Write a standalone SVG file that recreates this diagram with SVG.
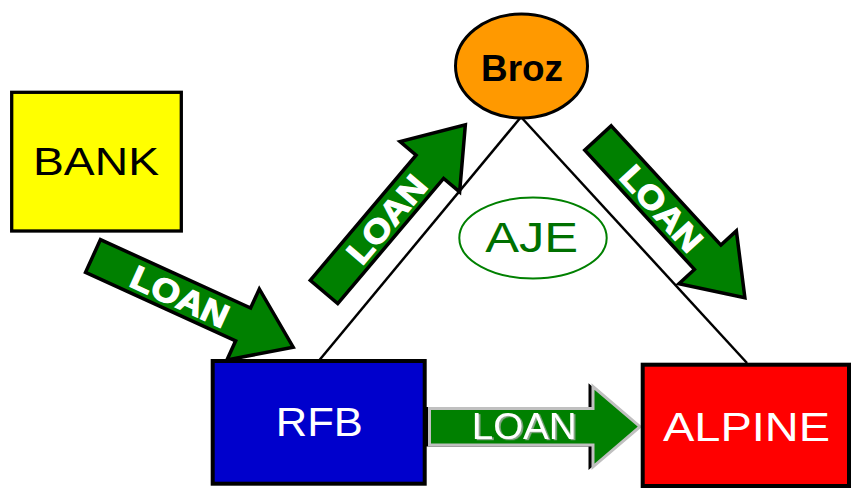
<svg xmlns="http://www.w3.org/2000/svg" width="852" height="488" viewBox="0 0 852 488">
  <style>
    .lbl { font-family: "Liberation Sans", Arial, sans-serif; text-anchor: middle; }
    .loanb { font-family: "Liberation Sans", Arial, sans-serif; font-weight: bold; font-size: 33px; fill: #ffffff; stroke: #ffffff; stroke-width: 1.2; text-anchor: middle; }
    .garrow { fill: #008000; stroke: #000000; stroke-width: 3.5; stroke-linejoin: miter; }
    .line { stroke: #000000; stroke-width: 2.5; fill: none; }
  </style>
  <defs>
    <filter id="shadow" x="-10%" y="-20%" width="120%" height="140%">
      <feDropShadow dx="1.8" dy="1.2" stdDeviation="0" flood-color="#8fa88f" flood-opacity="1"/>
    </filter>
  </defs>
  <rect width="852" height="488" fill="#ffffff"/>

  <g id="connectors">
    <line class="line" x1="521" y1="117" x2="319.5" y2="360"/>
    <line class="line" x1="521" y1="117" x2="747" y2="363"/>

    <g id="loan-bank-rfb" transform="translate(93,256) rotate(24.5)">
      <path class="garrow" d="M0,-18 L165,-18 L165,-39 L220,0 L165,39 L165,18 L0,18 Z"/>
      <text class="loanb" x="96" y="12.5" textLength="104" lengthAdjust="spacingAndGlyphs">LOAN</text>
    </g>

    <g id="loan-rfb-broz" transform="translate(324,292) rotate(-49.8)">
      <path class="garrow" d="M0,-18 L164,-18 L164,-39 L219,0 L164,39 L164,18 L0,18 Z"/>
      <text class="loanb" x="96" y="12.5" textLength="104" lengthAdjust="spacingAndGlyphs">LOAN</text>
    </g>

    <g id="loan-broz-alpine" transform="translate(598,138) rotate(47.4)">
      <path class="garrow" d="M0,-18 L162,-18 L162,-39 L217,0 L162,39 L162,18 L0,18 Z"/>
      <text class="loanb" x="95" y="12.5" textLength="104" lengthAdjust="spacingAndGlyphs">LOAN</text>
    </g>

    <g id="loan-rfb-alpine">
      <polygon points="426.5,408.5 590,408.5 590,386.5 637,426.7 590,466.8 590,445 426.5,445" fill="#000000" stroke="#000000" stroke-width="3"/>
      <polygon points="429.5,408.5 593,408.5 593,386.5 640,426.7 593,466.8 593,445 429.5,445" fill="#008000" stroke="#c0c0c0" stroke-width="3" stroke-linejoin="miter"/>
      <text class="lbl" x="524.2" y="438.5" font-size="36" fill="#ffffff" filter="url(#shadow)" textLength="105" lengthAdjust="spacingAndGlyphs">LOAN</text>
    </g>
  </g>

  <g id="bank">
    <rect x="11.7" y="92.3" width="169.6" height="138.7" fill="#ffff00" stroke="#000000" stroke-width="3.3"/>
    <text class="lbl" x="96" y="175" font-size="39" fill="#000000" textLength="126" lengthAdjust="spacingAndGlyphs">BANK</text>
  </g>

  <g id="broz">
    <ellipse cx="521.5" cy="66" rx="66" ry="52" fill="#ff9900" stroke="#000000" stroke-width="3"/>
    <text x="522" y="81" font-family="'Liberation Sans', Arial, sans-serif" font-weight="bold" font-size="37" fill="#000000" text-anchor="middle" textLength="82" lengthAdjust="spacingAndGlyphs">Broz</text>
  </g>

  <g id="aje">
    <ellipse cx="533" cy="238" rx="73.7" ry="40.5" fill="none" stroke="#008000" stroke-width="2"/>
    <text class="lbl" x="531.7" y="252.3" font-size="43" fill="#007000" textLength="93" lengthAdjust="spacingAndGlyphs">AJE</text>
  </g>

  <g id="rfb">
    <rect x="212.7" y="361" width="212" height="122.7" fill="#0000cc" stroke="#000000" stroke-width="4"/>
    <text class="lbl" x="319.3" y="436" font-size="40" fill="#ffffff" textLength="87" lengthAdjust="spacingAndGlyphs">RFB</text>
  </g>

  <g id="alpine">
    <rect x="642.7" y="364.7" width="206.3" height="121.3" fill="#ff0000" stroke="#000000" stroke-width="4"/>
    <text class="lbl" x="746.5" y="440.7" font-size="40" fill="#ffffff" textLength="167" lengthAdjust="spacingAndGlyphs">ALPINE</text>
  </g>
</svg>
